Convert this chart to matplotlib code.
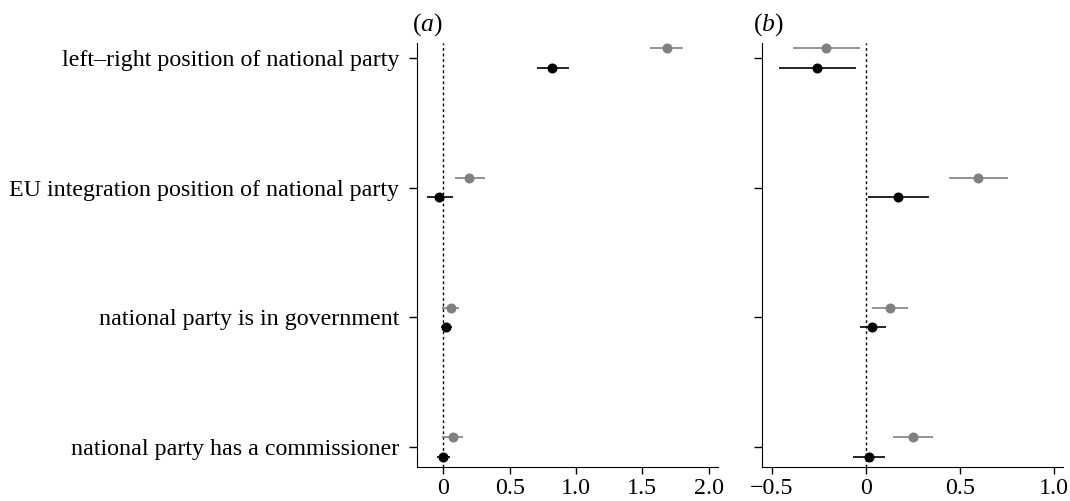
import numpy as np
import matplotlib.pyplot as plt

plt.rcParams['font.family'] = ['Liberation Serif', 'DejaVu Serif']
plt.rcParams['mathtext.fontset'] = 'custom'
plt.rcParams['mathtext.rm'] = 'Liberation Serif'
plt.rcParams['mathtext.it'] = 'Liberation Serif:italic'

labels = ['left\u2013right position of national party',
          'EU integration position of national party',
          'national party is in government',
          'national party has a commissioner']

# panel (a): estimate, lower, upper
a_grey = [1.683, 0.196, 0.053, 0.068]
a_grey_lo = [1.56, 0.088, -0.01, -0.008]
a_grey_hi = [1.81, 0.31, 0.12, 0.146]
a_black = [0.82, -0.033, 0.02, -0.005]
a_black_lo = [0.705, -0.126, -0.017, -0.048]
a_black_hi = [0.95, 0.07, 0.063, 0.05]

# panel (b)
b_grey = [-0.211, 0.596, 0.129, 0.25]
b_grey_lo = [-0.386, 0.442, 0.034, 0.147]
b_grey_hi = [-0.03, 0.758, 0.224, 0.36]
b_black = [-0.258, 0.174, 0.035, 0.018]
b_black_lo = [-0.462, 0.014, -0.032, -0.066]
b_black_hi = [-0.052, 0.335, 0.106, 0.101]

a_ticks = [0, 0.5, 1.0, 1.5, 2.0]
a_ticklabels = ['0', '0.5', '1.0', '1.5', '2.0']
b_ticks = [-0.5, 0, 0.5, 1.0]
b_ticklabels = ['\u22120.5', '0', '0.5', '1.0']

ypos = np.array([4, 3, 2, 1])
off = 0.075
fs = 17.3

fig = plt.figure(figsize=(10.70, 5.01), dpi=100)
ax1 = fig.add_axes([0.3897, 0.0679, 0.2813, 0.8463])
ax2 = fig.add_axes([0.7119, 0.0679, 0.2819, 0.8463])


def draw(ax, g, glo, ghi, k, klo, khi):
    g, glo, ghi = np.array(g), np.array(glo), np.array(ghi)
    k, klo, khi = np.array(k), np.array(klo), np.array(khi)
    ax.axvline(0, color='black', ls=(0, (2, 2)), lw=1.0, zorder=1)
    ax.errorbar(g, ypos + off, xerr=[g - glo, ghi - g], fmt='o', color='#808080',
                ms=6.2, elinewidth=1.2, capsize=0, zorder=3)
    ax.errorbar(k, ypos - off, xerr=[k - klo, khi - k], fmt='o', color='black',
                ms=6.2, elinewidth=1.2, capsize=0, zorder=3)
    ax.spines['top'].set_visible(False)
    ax.spines['right'].set_visible(False)
    ax.set_ylim(0.846, 4.115)
    ax.set_yticks(ypos)
    ax.tick_params(axis='both', direction='out', length=5, width=1, labelsize=fs)
    ax.tick_params(axis='x', pad=3)


draw(ax1, a_grey, a_grey_lo, a_grey_hi, a_black, a_black_lo, a_black_hi)
draw(ax2, b_grey, b_grey_lo, b_grey_hi, b_black, b_black_lo, b_black_hi)

ax1.set_xlim(-0.2, 2.07)
ax1.set_xticks(a_ticks)
ax1.set_xticklabels(a_ticklabels)
ax1.set_yticklabels(labels)
ax1.tick_params(axis='y', length=6, pad=7)

ax2.set_xlim(-0.554, 1.052)
ax2.set_xticks(b_ticks)
ax2.set_xticklabels(b_ticklabels)
ax2.set_yticklabels([])
ax2.tick_params(axis='y', length=6)

ax1.text(-0.015, 1.012, r'($\mathit{a}$)', transform=ax1.transAxes, fontsize=18.5,
         ha='left', va='bottom')
ax2.text(-0.03, 1.012, r'($\mathit{b}$)', transform=ax2.transAxes, fontsize=18.5,
         ha='left', va='bottom')

fig.savefig('out.png', dpi=100)
